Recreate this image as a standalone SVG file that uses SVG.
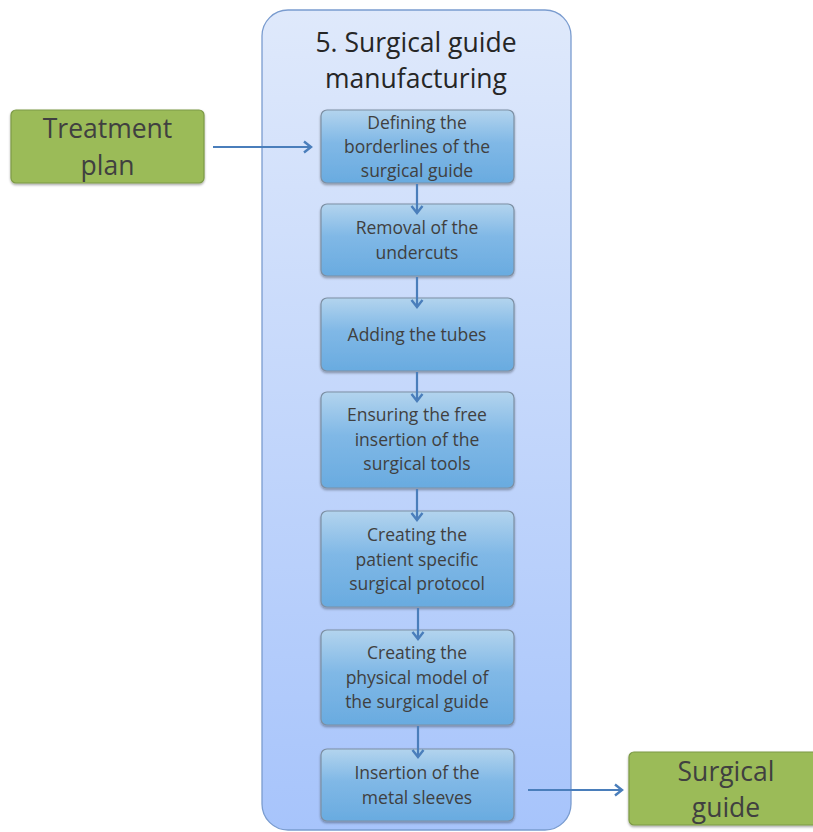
<svg xmlns="http://www.w3.org/2000/svg" width="813" height="832" viewBox="0 0 813 832">
<defs>
<linearGradient id="gCont" x1="0" y1="0" x2="0" y2="1">
<stop offset="0" stop-color="#dfe9fb"/>
<stop offset="1" stop-color="#a7c4fb"/>
</linearGradient>
<linearGradient id="gBox" x1="0" y1="0" x2="0" y2="1">
<stop offset="0" stop-color="#b3d4ee"/>
<stop offset="0.45" stop-color="#80b8e6"/>
<stop offset="1" stop-color="#69abe0"/>
</linearGradient>
<filter id="sh" x="-10%" y="-10%" width="120%" height="130%">
<feDropShadow dx="0" dy="1.5" stdDeviation="1.2" flood-color="#000" flood-opacity="0.35"/>
</filter>
<marker id="ah" markerWidth="14" markerHeight="14" viewBox="0 0 14 14" refX="11" refY="7" orient="auto" markerUnits="userSpaceOnUse">
<path d="M4,1.5 L11,7 L4,12.5" fill="none" stroke="#4a7ebb" stroke-width="2.4"/>
</marker>
</defs>
<style>
.box{fill:url(#gBox);stroke:#7c8fa3;stroke-width:1.2;filter:url(#sh)}
.green{fill:#9bbb59;stroke:#7d9a47;stroke-width:1.2;filter:url(#sh)}
.bt{font-family:"Open Sans","Liberation Sans",sans-serif;font-size:17.5px;fill:#404040;text-anchor:middle}
.gt{font-family:"Open Sans","Liberation Sans",sans-serif;font-size:26.5px;fill:#404040;text-anchor:middle}
.tt{font-family:"Open Sans","Liberation Sans",sans-serif;font-size:26.5px;fill:#262626;text-anchor:middle}
.con{stroke:#4a7ebb;stroke-width:2.2;fill:none;marker-end:url(#ah)}
</style>
<rect width="813" height="832" fill="#ffffff"/>
<g id="container">
<rect x="262" y="10" width="309" height="820" rx="26" ry="26" fill="url(#gCont)" stroke="#7a9ccf" stroke-width="1.3"/>
<text class="tt" x="416" y="52">5. Surgical guide</text>
<text class="tt" x="416" y="88">manufacturing</text>
</g>
<g id="treatment-plan">
<rect class="green" x="11" y="110" width="193" height="73" rx="5"/>
<text class="gt" x="107.5" y="138">Treatment</text>
<text class="gt" x="107.5" y="175">plan</text>
</g>
<g id="step1">
<rect class="box" x="321" y="110" width="193" height="73" rx="6"/>
<text class="bt" x="417" y="129">Defining the</text>
<text class="bt" x="417" y="153">borderlines of the</text>
<text class="bt" x="417" y="177">surgical guide</text>
</g>
<g id="step2">
<rect class="box" x="321" y="204" width="193" height="72" rx="6"/>
<text class="bt" x="417" y="234">Removal of the</text>
<text class="bt" x="417" y="259">undercuts</text>
</g>
<g id="step3">
<rect class="box" x="321" y="298" width="193" height="73" rx="6"/>
<text class="bt" x="417" y="341">Adding the tubes</text>
</g>
<g id="step4">
<rect class="box" x="321" y="392" width="193" height="96" rx="6"/>
<text class="bt" x="417" y="421">Ensuring the free</text>
<text class="bt" x="417" y="446">insertion of the</text>
<text class="bt" x="417" y="470">surgical tools</text>
</g>
<g id="step5">
<rect class="box" x="321" y="511" width="193" height="96" rx="6"/>
<text class="bt" x="417" y="541">Creating the</text>
<text class="bt" x="417" y="566">patient specific</text>
<text class="bt" x="417" y="590">surgical protocol</text>
</g>
<g id="step6">
<rect class="box" x="321" y="630" width="193" height="95" rx="6"/>
<text class="bt" x="417" y="659">Creating the</text>
<text class="bt" x="417" y="684">physical model of</text>
<text class="bt" x="417" y="708">the surgical guide</text>
</g>
<g id="step7">
<rect class="box" x="321" y="749" width="193" height="72" rx="6"/>
<text class="bt" x="417" y="779">Insertion of the</text>
<text class="bt" x="417" y="804">metal sleeves</text>
</g>
<g id="surgical-guide">
<rect class="green" x="629" y="752" width="190" height="73" rx="5"/>
<text class="gt" x="726" y="781">Surgical</text>
<text class="gt" x="726" y="817">guide</text>
</g>
<g id="connectors">
<line class="con" x1="213" y1="147" x2="311" y2="147"/>
<line class="con" x1="417" y1="184" x2="417" y2="213"/>
<line class="con" x1="417" y1="277" x2="417" y2="307"/>
<line class="con" x1="417" y1="372" x2="417" y2="401"/>
<line class="con" x1="417" y1="489" x2="417" y2="520"/>
<line class="con" x1="418" y1="608" x2="418" y2="639"/>
<line class="con" x1="418" y1="726" x2="418" y2="757"/>
<line class="con" x1="528" y1="790" x2="622" y2="790"/>
</g>
</svg>
